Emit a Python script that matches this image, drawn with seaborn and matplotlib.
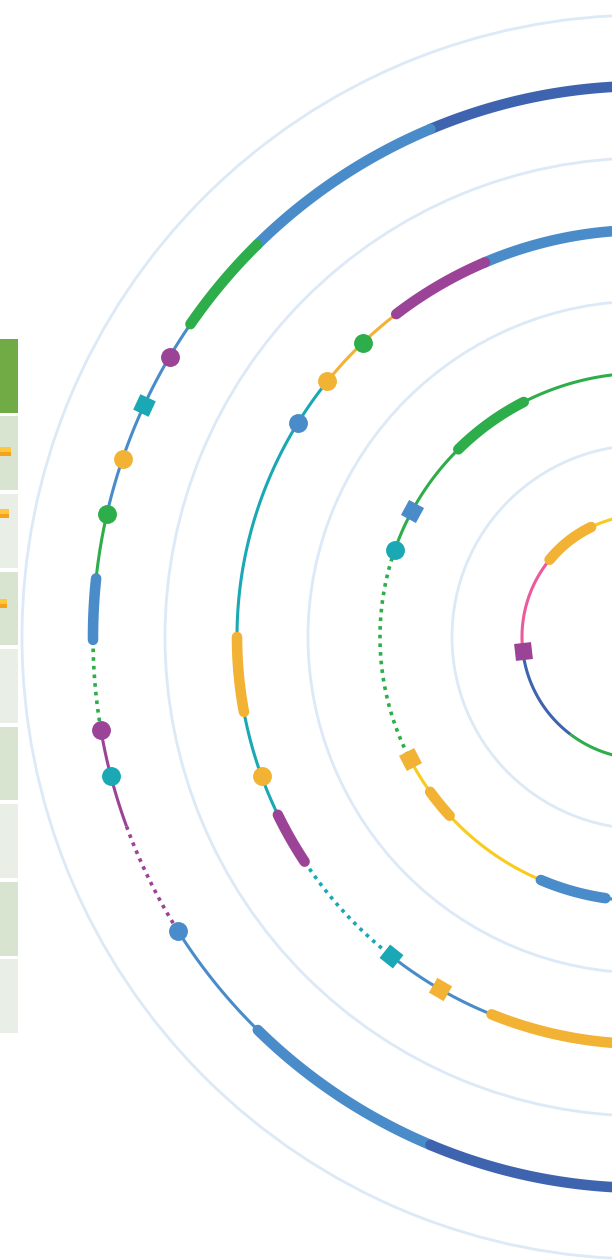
import matplotlib.pyplot as plt
import numpy as np
import seaborn as sns

# colours of the lines
palette = {
    'navy': '#3F64AF',
    'blue': '#4A8CCA',
    'green': '#2EAD4B',
    'purple': '#9B4497',
    'teal': '#19A8B4',
    'orange': '#F2B233',
    'yellow': '#F8CB1D',
    'pink': '#EC5A9E',
}

# track 1 (outer): segment boundaries in degrees, line of each segment, segment kind
t1_bounds = [80, 112.8, 134.6, 145.4, 167.1, 173.9, 180.3, 189.7, 200.1, 212.3, 225.5, 247.2, 280]
t1_lines = ['navy', 'blue', 'green', 'blue', 'green', 'blue', 'green', 'purple', 'purple', 'blue', 'blue', 'navy']
t1_kinds = ['thick', 'thick', 'thick', 'thin', 'thin', 'thick', 'dot', 'thin', 'dot', 'thin', 'thick', 'thick']
t1_stops = [149.4, 155.1, 161.1, 167.1, 189.7, 194.6, 212.3]
t1_stop_lines = ['purple', 'teal', 'orange', 'green', 'purple', 'teal', 'blue']
t1_stop_kinds = ['circle', 'square', 'circle', 'circle', 'circle', 'circle', 'circle']

# track 2
t2_bounds = [80, 113.0, 127.5, 141.1, 180.0, 190.6, 205.9, 213.5, 231.6, 248.0, 280]
t2_lines = ['blue', 'purple', 'orange', 'teal', 'orange', 'teal', 'purple', 'teal', 'blue', 'orange']
t2_kinds = ['thick', 'thick', 'thin', 'thin', 'thick', 'thin', 'thick', 'dot', 'thin', 'thick']
t2_stops = [133.7, 141.1, 148.3, 200.0, 231.6, 239.9]
t2_stop_lines = ['green', 'orange', 'blue', 'orange', 'teal', 'orange']
t2_stop_kinds = ['circle', 'circle', 'circle', 'circle', 'square', 'square']

# track 3
t3_bounds = [80, 117.1, 134.7, 160.7, 207.5, 215.9, 222.6, 247.0, 261.6, 280]
t3_lines = ['green', 'green', 'green', 'green', 'yellow', 'orange', 'yellow', 'blue', 'teal']
t3_kinds = ['thin', 'thick', 'thin', 'dot', 'thin', 'thick', 'thin', 'thick', 'thin']
t3_stops = [151.5, 160.7, 207.5]
t3_stop_lines = ['blue', 'teal', 'orange']
t3_stop_kinds = ['square', 'circle', 'square']

# track 4 (inner)
t4_bounds = [80, 115.7, 140.7, 186.5, 232.9, 280]
t4_lines = ['yellow', 'orange', 'pink', 'navy', 'green']
t4_kinds = ['thin', 'thick', 'thin', 'thin', 'thin']
t4_stops = [186.5]
t4_stop_lines = ['purple']
t4_stop_kinds = ['square']

# left table strip (cut off at the figure edge)
strip_rows = ['head', 'dark', 'light', 'dark', 'light', 'dark', 'light', 'dark', 'light']
strip_colors = {'head': '#70AB45', 'dark': '#D8E4D0', 'light': '#E9EEE7'}
strip_bar_rows = [0.98, 1.78, 2.94]
strip_bar_values = [0.6, 0.5, 0.4]

W, H = 612, 1260
cx, cy, R = 644, 637, 640
track_radius = [551, 407, 264, 122]
ring_radius = [192, 336, 479, 622]

sns.set_style('white')
fig = plt.figure(figsize=(W / 100, H / 100), dpi=100)

ax = fig.add_axes([(cx - R) / W, (H - cy - R) / H, 2 * R / W, 2 * R / H], projection='polar')
ax.set_facecolor('none')
ax.set_ylim(0, R)
ax.set_yticks(ring_radius)
ax.set_yticklabels([])
ax.set_xticks([])
ax.yaxis.grid(True, color='#DCE9F7', lw=2.0)
ax.spines['polar'].set_visible(False)

kind_style = {
    'thin': dict(lw=2.2, ls='-', solid_capstyle='butt', zorder=2),
    'dot': dict(lw=2.6, ls=(0, (1, 1.4)), dash_capstyle='butt', zorder=2),
    'thick': dict(lw=7.6, ls='-', solid_capstyle='round', zorder=3),
}

tracks = [
    (t1_bounds, t1_lines, t1_kinds, t1_stops, t1_stop_lines, t1_stop_kinds),
    (t2_bounds, t2_lines, t2_kinds, t2_stops, t2_stop_lines, t2_stop_kinds),
    (t3_bounds, t3_lines, t3_kinds, t3_stops, t3_stop_lines, t3_stop_kinds),
    (t4_bounds, t4_lines, t4_kinds, t4_stops, t4_stop_lines, t4_stop_kinds),
]

for r, (bounds, lines, kinds, stops, stop_lines, stop_kinds) in zip(track_radius, tracks):
    for i in range(len(lines)):
        th = np.deg2rad(np.linspace(bounds[i], bounds[i + 1], 120))
        sns.lineplot(x=th, y=np.full(th.size, r), ax=ax, color=palette[lines[i]],
                     sort=False, estimator=None, **kind_style[kinds[i]])
    for a, ln, k in zip(stops, stop_lines, stop_kinds):
        if k == 'square':
            m, s = (4, 0, a + 45), 300
        else:
            m, s = 'o', 185
        sns.scatterplot(x=[np.deg2rad(a)], y=[r], ax=ax, color=palette[ln], marker=m,
                        s=s, linewidth=0, zorder=5)

# the strip on the left
sax = fig.add_axes([0, (H - 1035) / H, 18 / W, (1035 - 337) / H])
sax.barh(range(len(strip_rows)), 1, height=0.95, color=[strip_colors[k] for k in strip_rows], lw=0)
sax.barh(strip_bar_rows, strip_bar_values, height=0.12, color='#FFC63E', lw=0)
sax.barh(np.array(strip_bar_rows) + 0.03, strip_bar_values, height=0.06, color='#F6A31C', lw=0)
sax.set_xlim(0, 1)
sax.set_ylim(len(strip_rows) - 0.5, -0.5)
sax.axis('off')

fig.savefig('out.png', dpi=100)
